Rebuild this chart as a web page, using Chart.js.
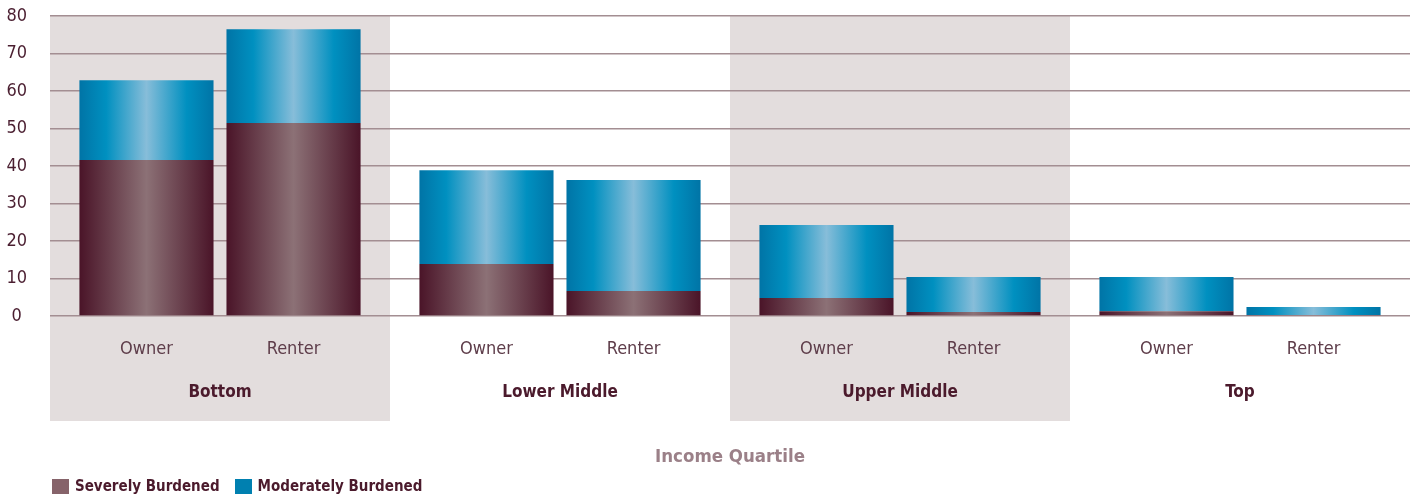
<!DOCTYPE html>
<html>
<head>
<meta charset="utf-8">
<script src="https://cdn.jsdelivr.net/npm/chart.js@4.4.1/dist/chart.umd.min.js"></script>
<style>
  html, body { margin: 0; padding: 0; background: #fff; }
  #wrap { position: relative; width: 1418px; height: 499px; }
  #legend {
    position: absolute; left: 52px; top: 477px;
    display: flex; align-items: center;
    font-family: "Liberation Sans Narrow", "DejaVu Sans Condensed", sans-serif;
    font-weight: bold; font-size: 15px; color: #4b1a2c;
  }
  #legend .item { display: flex; align-items: center; margin-right: 15px; }
  #legend .box { width: 17px; height: 15px; margin-right: 6px; }
</style>
</head>
<body>
<div id="wrap">
  <canvas id="chart" width="1418" height="499"></canvas>
  <div id="legend"></div>
</div>
<script>
// data
const quartiles = ['Bottom', 'Lower Middle', 'Upper Middle', 'Top'];
const tenures = ['Owner', 'Renter'];
const severeOwner = [41.6, 13.9, 4.8, 1.3];
const moderateOwner = [21.3, 25.0, 19.5, 9.1];
const severeRenter = [51.5, 6.7, 1.1, 0.3];
const moderateRenter = [25.0, 29.6, 9.3, 2.1];
const yTicks = [0, 10, 20, 30, 40, 50, 60, 70, 80];

const FONT = '"Liberation Sans Narrow", "DejaVu Sans Condensed", sans-serif';
const SEVERE = '#86636a';
const MODERATE = '#0080b0';
const severeStops = [[0, '#4a1428'], [0.5, '#8c7176'], [1, '#4a1428']];
const moderateStops = [[0, '#0074a6'], [0.2, '#0090c0'], [0.5, '#87bdd9'], [0.8, '#0090c0'], [1, '#0074a6']];

Chart.defaults.font.family = FONT;

// grey bands behind the Bottom and Upper Middle groups
const bandPlugin = {
  id: 'bands',
  beforeDraw(chart) {
    const { ctx, chartArea, scales: { x } } = chart;
    const w = (chartArea.right - chartArea.left) / quartiles.length;
    ctx.save();
    ctx.fillStyle = '#e3dddd';
    [0, 2].forEach(i => {
      const cx = x.getPixelForValue(i);
      ctx.fillRect(cx - w / 2, chartArea.top, w, chartArea.bottom - chartArea.top + 105);
    });
    ctx.restore();
  }
};

// horizontal shine on each bar
const gradientPlugin = {
  id: 'barGradient',
  beforeDatasetsDraw(chart) {
    const ctx = chart.ctx;
    chart.data.datasets.forEach((ds, di) => {
      const meta = chart.getDatasetMeta(di);
      meta.data.forEach(el => {
        const { x, width } = el.getProps(['x', 'width'], true);
        const g = ctx.createLinearGradient(x - width / 2, 0, x + width / 2, 0);
        ds.stops.forEach(([p, c]) => g.addColorStop(p, c));
        el.options.backgroundColor = g;
      });
    });
  }
};

// Owner / Renter under each bar
const tenurePlugin = {
  id: 'tenureLabels',
  afterDraw(chart) {
    const { ctx, chartArea } = chart;
    ctx.save();
    ctx.font = '18px ' + FONT;
    ctx.fillStyle = '#5e3d4a';
    ctx.textAlign = 'center';
    ctx.textBaseline = 'middle';
    [1, 3].forEach((di, k) => {
      chart.getDatasetMeta(di).data.forEach(el => {
        ctx.fillText(tenures[k], el.x, chartArea.bottom + 33);
      });
    });
    ctx.restore();
  }
};

const datasets = [
  { label: 'Severely Burdened', data: severeOwner, stack: 'owner', color: SEVERE, stops: severeStops },
  { label: 'Moderately Burdened', data: moderateOwner, stack: 'owner', color: MODERATE, stops: moderateStops },
  { label: 'Severely Burdened', data: severeRenter, stack: 'renter', color: SEVERE, stops: severeStops },
  { label: 'Moderately Burdened', data: moderateRenter, stack: 'renter', color: MODERATE, stops: moderateStops }
].map(d => ({
  ...d,
  backgroundColor: () => d.color,
  borderWidth: 0,
  categoryPercentage: 0.865,
  barPercentage: 0.912
}));

new Chart(document.getElementById('chart'), {
  type: 'bar',
  data: { labels: quartiles, datasets },
  plugins: [bandPlugin, gradientPlugin, tenurePlugin],
  options: {
    responsive: false,
    animation: false,
    layout: { padding: { left: 0, right: 8, top: 16, bottom: 23 } },
    plugins: { legend: { display: false }, tooltip: { enabled: false } },
    scales: {
      x: {
        stacked: true,
        grid: { display: false },
        border: { display: false },
        ticks: { font: { size: 17, weight: 'bold' }, color: '#4b1a2c', padding: 58 },
        title: {
          display: true, text: 'Income Quartile',
          font: { size: 18.5, weight: 'bold' }, color: '#9b8088',
          padding: { top: 0, bottom: 8 }
        },
        afterFit(s) { s.height = 160; }
      },
      y: {
        stacked: true,
        min: 0, max: 80,
        afterBuildTicks(s) { s.ticks = yTicks.map(v => ({ value: v })); },
        grid: { color: '#a38e92', lineWidth: 1.5, drawTicks: true, tickLength: 23, tickColor: 'rgba(0,0,0,0)' },
        border: { display: false },
        ticks: { font: { size: 18 }, color: '#4a1e30', padding: 0, crossAlign: 'center' },
        afterFit(s) { s.width = 50; }
      }
    }
  }
});

// legend from dataset labels
const legend = document.getElementById('legend');
datasets.slice(0, 2).forEach(d => {
  const item = document.createElement('div');
  item.className = 'item';
  item.innerHTML = '<span class="box" style="background:' + d.color + '"></span><span>' + d.label + '</span>';
  legend.appendChild(item);
});
</script>
</body>
</html>
